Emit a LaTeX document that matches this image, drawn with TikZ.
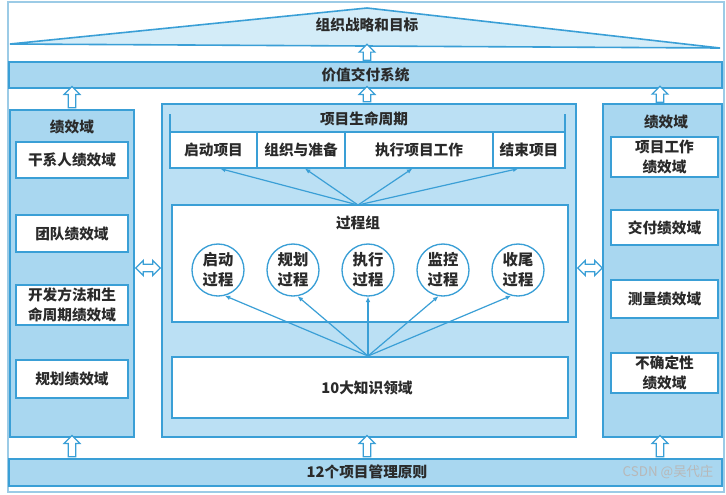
\documentclass[tikz,border=0pt]{standalone}
\usepackage{fontspec}
\setmainfont{Noto Sans CJK SC}
\usetikzlibrary{shapes.arrows,shapes.geometric,arrows.meta,fit}
\definecolor{lineblue}{HTML}{3A9FD6}
\definecolor{colfill}{HTML}{A9D7F0}
\definecolor{lightfill}{HTML}{D3ECF8}
\definecolor{midfill}{HTML}{BBE0F4}
\definecolor{txt}{HTML}{2A2A2A}
\definecolor{framec}{HTML}{9CCBE6}
\begin{document}
\begin{tikzpicture}[x=0.75pt,y=-0.75pt,
  every node/.style={text=txt},
  panel/.style={draw=lineblue, line width=1pt, fill=colfill, inner sep=0pt},
  cpanel/.style={draw=lineblue, line width=1pt, fill=midfill, inner sep=0pt},
  wbox/.style={draw=lineblue, line width=0.9pt, fill=white, inner sep=0pt},
  lbl/.style={align=center, inner sep=0pt, font=\fontsize{11}{15}\selectfont\bfseries},
  circ/.style={circle, draw=lineblue, line width=1pt, fill=white, minimum size=39pt,
     inner sep=0pt, align=center, font=\fontsize{11.5}{15}\selectfont\bfseries},
  conn/.style={draw=lineblue, line width=0.9pt, -{Latex[length=4pt,width=3.5pt]}},
  uparr/.style={single arrow, draw=lineblue, fill=white, line width=0.9pt, rotate=90,
     inner sep=2.3pt, single arrow head extend=3.2pt, single arrow head indent=0pt},
  dblarr/.style={double arrow, draw=lineblue, fill=white, line width=0.9pt,
     inner sep=2.3pt, double arrow head extend=3pt, minimum height=18.5pt}
]
\useasboundingbox (0,0) rectangle (726,494);
% outer frame
\draw[framec, line width=0.8pt] (8,2) rectangle (724,492);

% roof
\draw[draw=lineblue, fill=lightfill, line width=1.2pt] (10,44) -- (367,8) -- (720,48) -- cycle;
\node[lbl] (goal) at (367,25) {组织战略和目标};

% value delivery bar
\node[panel, fit={(9,62) (722,88)}] (vds) {};
\node[lbl] (vdst) at (vds.center) {价值交付系统};

% left column
\node[panel, fit={(10,110) (134,437)}] (lcol) {};
\node[lbl] (lcolt) at (72,127) {绩效域};
\node[wbox, fit={(16,142) (128,178)}] (l1) {};
\node[lbl] (l1t) at (l1.center) {干系人绩效域};
\node[wbox, fit={(16,215) (128,252)}] (l2) {};
\node[lbl] (l2t) at (l2.center) {团队绩效域};
\node[wbox, fit={(16,285) (128,325)}] (l3) {};
\node[lbl] (l3t) at (l3.center) {开发方法和生\\命周期绩效域};
\node[wbox, fit={(16,360) (128,398)}] (l4) {};
\node[lbl] (l4t) at (l4.center) {规划绩效域};

% right column
\node[panel, fit={(603,104) (722,437)}] (rcol) {};
\node[lbl] (rcolt) at (666,122) {绩效域};
\node[wbox, fit={(611,137) (718,177)}] (r1) {};
\node[lbl] (r1t) at (r1.center) {项目工作\\绩效域};
\node[wbox, fit={(611,210) (718,245)}] (r2) {};
\node[lbl] (r2t) at (r2.center) {交付绩效域};
\node[wbox, fit={(611,280) (718,318)}] (r3) {};
\node[lbl] (r3t) at (r3.center) {测量绩效域};
\node[wbox, fit={(611,353) (718,393)}] (r4) {};
\node[lbl] (r4t) at (r4.center) {不确定性\\绩效域};

% center box
\node[cpanel, fit={(162,104) (576,437)}] (cbox) {};
\node[lbl] (lct) at (364,119) {项目生命周期};
\draw[lineblue, line width=0.9pt] (170,114) -- (170,132);
\draw[lineblue, line width=0.9pt] (565,114) -- (565,132);
\node[wbox, fit={(170,132) (257,168)}] (p1) {};
\node[lbl] (p1t) at (p1.center) {启动项目};
\node[wbox, fit={(257,132) (345,168)}] (p2) {};
\node[lbl] (p2t) at (p2.center) {组织与准备};
\node[wbox, fit={(345,132) (493,168)}] (p3) {};
\node[lbl] (p3t) at (p3.center) {执行项目工作};
\node[wbox, fit={(493,132) (565,168)}] (p4) {};
\node[lbl] (p4t) at (p4.center) {结束项目};

\node[wbox, fit={(172,205) (568,322)}] (pg) {};
\node[lbl] (pgt) at (358,223) {过程组};
\coordinate (hub1) at (358,205);

\node[circ] (c1) at (218,270) {启动\\过程};
\node[circ] (c2) at (293,270) {规划\\过程};
\node[circ] (c3) at (368,270) {执行\\过程};
\node[circ] (c4) at (443,270) {监控\\过程};
\node[circ] (c5) at (518,270) {收尾\\过程};

\node[wbox, fit={(172,357) (568,418)}] (ka) {};
\node[lbl] (kat) at (367,388) {10大知识领域};
\coordinate (hub2) at (368,356);

% connectors
\draw[conn] (hub1) -- ([xshift=5pt]p1.south);
\draw[conn] (hub1) -- ([xshift=3pt]p2.south);
\draw[conn] (hub1) -- ([xshift=-5pt]p3.south);
\draw[conn] (hub1) -- ([xshift=-8pt]p4.south);
\draw[conn] (hub2) -- (c1.-75);
\draw[conn] (hub2) -- (c2.-80);
\draw[conn] (hub2) -- (c3.south);
\draw[conn] (hub2) -- (c4.-100);
\draw[conn] (hub2) -- (c5.-105);

% bottom bar
\node[panel, fit={(9,459) (722,486)}] (pr) {};
\node[lbl] (prt) at (367,472) {12个项目管理原则};

% hollow up arrows
\node[uparr, minimum height=12pt] (a0) at (367,54) {};
\node[uparr, minimum height=16pt] (a1) at (72,99) {};
\node[uparr, minimum height=11.5pt] (a2) at (367,96) {};
\node[uparr, minimum height=12pt] (a3) at (660,96) {};
\node[uparr, minimum height=16pt] (b1) at (72,448) {};
\node[uparr, minimum height=16pt] (b2) at (367,448) {};
\node[uparr, minimum height=16pt] (b3) at (660,448) {};

% double arrows
\node[dblarr] (d1) at (148,268) {};
\node[dblarr] (d2) at (590,268) {};

% watermark
\node[text=white!72!black, font=\fontsize{10}{12}\selectfont] (wm) at (668,472) {CSDN @吴代庄};
\end{tikzpicture}
\end{document}
